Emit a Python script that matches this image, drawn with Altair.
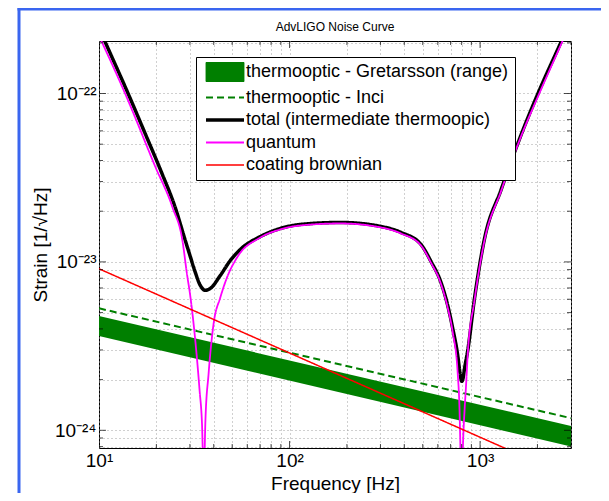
import altair as alt
import pandas as pd

# ---- values (frequency in Hz, strain in 1/sqrt(Hz)) ----
quantum_f = [10, 13.71, 19.72, 24.3, 27.4, 28.94, 30.12, 32.01, 33.72, 34.71, 35.48, 36.14,
             37.61, 39.96, 43.35, 46.99, 53.05, 70.4, 89.7, 114.3, 185.5, 301.2, 383.9, 489.3,
             552.2, 623.4, 676.1, 718.4, 763.0, 780.1, 787.6, 801, 813.9, 828.8, 844.0,
             861.6, 933.3, 1053, 1290, 1644, 2045, 2701, 3000]
quantum_s = [2.2e-22, 1e-22, 3.69e-23, 2.11e-23, 1.341e-23, 8.5e-24, 6.3e-24, 3.42e-24,
             1.727e-24, 1.10e-24, 5e-25, 1.10e-24, 2.18e-24, 4.31e-24, 6.16e-24, 8.09e-24,
             1.063e-23, 1.397e-23, 1.56e-23, 1.646e-23, 1.692e-23, 1.602e-23, 1.476e-23,
             1.253e-23, 9.9e-24, 7.4e-24, 5.35e-24, 3.82e-24, 2.18e-24, 1.315e-24, 8.37e-25,
             4e-25, 8.37e-25, 1.315e-24, 1.849e-24, 2.85e-24, 5.85e-24, 1.33e-23, 2.64e-23,
             5.6e-23, 1e-22, 2.035e-22, 2.66e-22]

total_f = [10, 10.75, 14.21, 17.46, 21.4, 25.1, 28.36, 30.12, 32.01, 34.01, 36.14, 38.39,
           43.35, 48.93, 55.2, 70.4, 89.7, 114.3, 185.5, 301.2, 383.9, 489.3, 552.2, 623.4,
           676.1, 718.4, 763.0, 787.6, 801, 813.9, 828.8, 861.6, 933.3, 1053, 1290, 1644,
           2013, 2668, 3000]
total_s = [2.45e-22, 2.035e-22, 1e-22, 5.79e-23, 3.35e-23, 2.11e-23, 1.341e-23, 1.078e-23,
           8.67e-24, 7.25e-24, 6.78e-24, 6.96e-24, 8.32e-24, 1.021e-23, 1.186e-23, 1.416e-23,
           1.581e-23, 1.669e-23, 1.715e-23, 1.624e-23, 1.497e-23, 1.27e-23, 1.007e-23,
           7.55e-24, 5.52e-24, 4.03e-24, 2.79e-24, 2.12e-24, 1.953e-24, 2.035e-24, 2.33e-24,
           2.98e-24, 5.99e-24, 1.36e-23, 2.69e-23, 5.71e-23, 1e-22, 2.035e-22, 2.74e-22]

coating_f = [10, 3000]
coating_s = [9.1e-24, 5.25e-25]

inci_f = [10, 3000]
inci_s = [5.3e-24, 1.18e-24]

band_f = [10, 3000]
band_hi = [4.77e-24, 1.06e-24]
band_lo = [3.63e-24, 8.0e-25]

title_text = ["AdvLIGO Noise Curve"]

names = ["thermooptic - Gretarsson (range)", "thermooptic - Inci",
         "total (intermediate thermoopic)", "quantum", "coating brownian"]
colors = ["#007f00", "#007f00", "#000000", "#ff00ff", "#ff0000"]
fills = ["#007f00", "transparent", "transparent", "transparent", "transparent"]
widths = [1, 2, 3.5, 1.8, 1.5]
dashes = [[1, 0], [7, 4], [1, 0], [1, 0], [1, 0]]
LINE = "M-1,0H6.6"
RECT = "M-1,-1.9H6.6V1.9H-1Z"
shapes = [RECT, LINE, LINE, LINE, LINE]

x_major = [10, 100, 1000]
x_minor = [20, 30, 40, 50, 60, 70, 80, 90, 200, 300, 400, 500, 600, 700, 800, 900, 2000, 3000]
y_major = [1e-24, 1e-23, 1e-22]
y_minor = [8e-25, 9e-25, 2e-24, 3e-24, 4e-24, 5e-24, 6e-24, 7e-24, 8e-24, 9e-24,
           2e-23, 3e-23, 4e-23, 5e-23, 6e-23, 7e-23, 8e-23, 9e-23, 2e-22]

FONT = "Liberation Sans, Arial, Helvetica, sans-serif"
W, H = 472, 407

xscale = alt.Scale(type="log", domain=[10, 3000], nice=False)
yscale = alt.Scale(type="log", domain=[7.85e-25, 2.05e-22], nice=False)

x_axis = alt.Axis(values=sorted(x_major + x_minor), title="Frequency [Hz]",
                  labelExpr="datum.value == 10 ? '10¹' : datum.value == 100 ? '10²' : datum.value == 1000 ? '10³' : ''",
                  grid=True, gridColor="#a0a0a0", gridDash=[1, 3], gridWidth=1,
                  ticks=False, domain=False, labelFlush=False, labelOverlap=False,
                  labelFontSize=19, labelFont=FONT, labelColor="black", labelPadding=3,
                  titleFontSize=19, titleFont=FONT, titleFontWeight="normal",
                  titleColor="black", titlePadding=4)
y_axis = alt.Axis(values=sorted(y_major + y_minor), title="Strain [1/√Hz]",
                  labelExpr="datum.value == 1e-22 ? '10⁻²²' : datum.value == 1e-23 ? '10⁻²³' : datum.value == 1e-24 ? '10⁻²⁴' : ''",
                  grid=True, gridColor="#a0a0a0", gridDash=[1, 3], gridWidth=1,
                  ticks=False, domain=False, labelFlush=False, labelOverlap=False,
                  labelFontSize=19, labelFont=FONT, labelColor="black", labelPadding=3,
                  titleFontSize=19, titleFont=FONT, titleFontWeight="normal",
                  titleColor="black", titlePadding=4)

legend = alt.Legend(
    title=None, orient="none", legendX=97, legendY=16,
    symbolSize=100, symbolOpacity=1, labelFontSize=18,
    labelFont=FONT, labelColor="black", labelLimit=500, labelOffset=26,
    rowPadding=4.5, padding=6, strokeColor="black", fillColor="white",
)

band_df = pd.DataFrame({"f": band_f, "hi": band_hi, "lo": band_lo})
band = alt.Chart(band_df).mark_area(color=colors[0], opacity=1, clip=True).encode(
    x=alt.X("f:Q", scale=xscale, axis=x_axis),
    y=alt.Y("hi:Q", scale=yscale, axis=y_axis),
    y2="lo:Q",
)


def series_layer(i, fs, ss):
    df = pd.DataFrame({"f": fs, "s": ss})
    return alt.Chart(df).mark_line(
        clip=True, interpolate="monotone", color=colors[i],
        strokeWidth=widths[i], strokeDash=dashes[i]).encode(
        x=alt.X("f:Q", scale=xscale, axis=x_axis),
        y=alt.Y("s:Q", scale=yscale, axis=y_axis),
    )


inci = series_layer(1, inci_f, inci_s)
total = series_layer(2, total_f, total_s)
quantum = series_layer(3, quantum_f, quantum_s)
coating = series_layer(4, coating_f, coating_s)

# legend only: an empty point layer whose scales carry the five series
key_df = pd.DataFrame({"series": names, "f": [10.0] * 5, "s": [1e-23] * 5})
key = alt.Chart(key_df).transform_filter(alt.datum.f > 1e9).mark_point(
    size=100, opacity=1, filled=False).encode(
    x=alt.X("f:Q", scale=xscale, axis=x_axis),
    y=alt.Y("s:Q", scale=yscale, axis=y_axis),
    shape=alt.Shape("series:N", scale=alt.Scale(domain=names, range=shapes), legend=legend),
    stroke=alt.Stroke("series:N", scale=alt.Scale(domain=names, range=colors), legend=legend),
    fill=alt.Fill("series:N", scale=alt.Scale(domain=names, range=fills), legend=legend),
    strokeDash=alt.StrokeDash("series:N", scale=alt.Scale(domain=names, range=dashes), legend=legend),
    strokeWidth=alt.StrokeWidth("series:N", scale=alt.Scale(type="ordinal", domain=names, range=widths), legend=legend),
)


def x_ticks_layer(vals, size, ypix):
    df = pd.DataFrame({"f": vals})
    return alt.Chart(df).mark_tick(color="black", thickness=1, size=size, clip=True).encode(
        x=alt.X("f:Q", scale=xscale, axis=x_axis), y=alt.value(ypix))


def y_ticks_layer(vals, size, xpix):
    df = pd.DataFrame({"s": vals})
    return alt.Chart(df).mark_tick(color="black", thickness=1, size=size, clip=True).encode(
        y=alt.Y("s:Q", scale=yscale, axis=y_axis), x=alt.value(xpix))


ticks = [
    x_ticks_layer(x_minor, 4, H - 2), x_ticks_layer(x_major, 7, H - 3.5),
    x_ticks_layer(x_minor, 4, 2), x_ticks_layer(x_major, 7, 3.5),
    y_ticks_layer(y_minor, 4, 2), y_ticks_layer(y_major, 7, 3.5),
    y_ticks_layer(y_minor, 4, W - 2), y_ticks_layer(y_major, 7, W - 3.5),
]

frame_df = pd.DataFrame({"k": [0]})
left_border = alt.Chart(frame_df).mark_rule(color="#3a66f0", strokeWidth=3).encode(
    x=alt.value(-80), y=alt.value(-33), y2=alt.value(H + 45))
top_border = alt.Chart(frame_df).mark_rule(color="#3a66f0", strokeWidth=3).encode(
    x=alt.value(-81.5), x2=alt.value(W + 40), y=alt.value(-32))

title_df = pd.DataFrame({"t": title_text})
title = alt.Chart(title_df).mark_text(fontSize=12, font=FONT, color="black",
                                      align="center", baseline="middle").encode(
    x=alt.value(W / 2), y=alt.value(-14), text="t:N")

chart = alt.layer(band, inci, total, quantum, coating, key, *ticks,
                  left_border, top_border, title).properties(
    width=W, height=H,
    autosize=alt.AutoSizeParams(type="none"),
    padding={"left": 91, "top": 33, "right": 30, "bottom": 45},
    background="white",
).configure_view(stroke="black", strokeWidth=1)

chart.save("out.html", embed_options={"renderer": "svg", "actions": False})
